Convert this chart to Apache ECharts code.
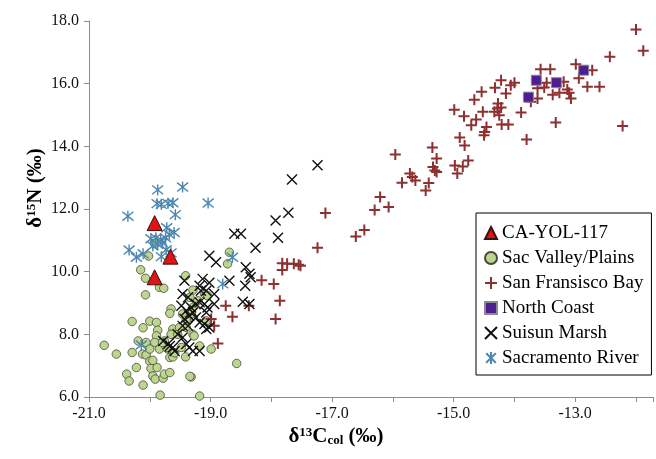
<!DOCTYPE html>
<html>
<head>
<meta charset="utf-8">
<script src="https://cdn.jsdelivr.net/npm/echarts@6/dist/echarts.min.js"></script>
<style>
  html, body { margin: 0; padding: 0; background: #fff; }
  #chart { width: 656px; height: 459px; }
</style>
</head>
<body>
<div id="chart"></div>
<script>
  // δ13C col, δ15N pairs
  const caYol = [[-19.92, 11.55], [-19.66, 10.48], [-19.92, 9.82]];

  const sacValley = [
    [-20.75, 7.65], [-20.55, 7.37], [-20.29, 7.42], [-20.29, 8.41], [-20.07, 9.26],
    [-20.11, 8.21], [-20.00, 8.42], [-19.89, 8.38], [-19.87, 8.13], [-19.89, 7.95],
    [-20.06, 7.74], [-19.92, 7.74], [-20.12, 7.37], [-20.06, 7.34], [-20.00, 7.53],
    [-19.84, 7.53], [-20.22, 6.94], [-20.38, 6.73], [-20.34, 6.51], [-20.11, 6.38],
    [-20.00, 7.14], [-19.98, 6.91], [-19.95, 6.67], [-19.91, 6.57], [-19.88, 6.94],
    [-19.78, 6.60], [-19.83, 6.06], [-19.65, 8.81], [-19.67, 8.67], [-19.76, 7.79],
    [-19.70, 7.53], [-19.67, 7.26], [-19.62, 8.17], [-19.65, 8.00], [-19.54, 8.00],
    [-19.62, 7.28], [-19.59, 7.41], [-19.48, 7.58], [-19.41, 7.28], [-19.40, 8.22],
    [-19.37, 8.43], [-19.32, 8.65], [-19.46, 8.65], [-19.32, 6.64], [-19.29, 8.00],
    [-19.18, 6.03], [-19.07, 8.43], [-18.99, 7.53], [-18.57, 7.07], [-19.29, 8.86],
    [-19.21, 9.07], [-19.10, 9.29], [-19.84, 9.50], [-20.02, 10.50], [-20.15, 10.06],
    [-20.07, 9.79], [-19.77, 9.47], [-19.41, 9.87], [-19.29, 9.41], [-18.69, 10.62],
    [-18.72, 10.25], [-19.92, 10.90], [-19.34, 9.18], [-19.05, 9.23], [-19.51, 8.22],
    [-19.18, 7.63], [-19.76, 6.73], [-19.67, 6.78], [-19.34, 6.66], [-19.73, 7.58],
    [-19.79, 7.74], [-20.19, 7.79], [-19.95, 7.17], [-19.40, 8.45], [-19.27, 7.95]
  ];

  const sfBay = [
    [-12.00, 17.73], [-11.88, 17.05], [-12.43, 16.86], [-12.99, 16.62], [-12.72, 16.43],
    [-13.57, 16.46], [-13.41, 16.46], [-12.94, 16.17], [-13.47, 16.03], [-13.19, 16.06],
    [-13.62, 15.85], [-13.51, 15.88], [-13.37, 15.65], [-13.26, 15.71], [-13.13, 15.81],
    [-13.10, 15.71], [-13.07, 15.53], [-12.80, 15.90], [-12.60, 15.90], [-13.62, 15.53],
    [-13.73, 15.42], [-13.32, 14.76], [-12.22, 14.65], [-13.80, 14.22], [-14.22, 16.11],
    [-14.06, 15.95], [-14.00, 16.03], [-14.32, 15.87], [-14.14, 15.69], [-14.54, 15.74],
    [-14.66, 15.49], [-14.27, 15.37], [-14.28, 15.21], [-14.22, 15.24], [-14.33, 15.10],
    [-14.25, 14.99], [-13.89, 15.08], [-14.52, 15.10], [-14.99, 15.17], [-14.83, 14.96],
    [-14.63, 14.86], [-14.71, 14.67], [-14.46, 14.62], [-14.49, 14.46], [-14.50, 14.35],
    [-14.21, 14.70], [-14.10, 14.70], [-14.90, 14.28], [-14.82, 14.03], [-15.35, 13.96],
    [-15.28, 13.61], [-15.34, 13.34], [-15.31, 13.23], [-15.28, 13.18], [-14.98, 13.39],
    [-14.94, 13.13], [-14.85, 13.36], [-14.76, 13.55], [-15.96, 13.74], [-15.72, 13.13],
    [-15.68, 13.02], [-15.63, 12.91], [-15.85, 12.84], [-15.41, 12.83], [-15.46, 12.59],
    [-16.21, 12.38], [-16.30, 11.97], [-16.07, 12.06], [-16.61, 11.12], [-16.47, 11.33],
    [-17.11, 11.87], [-17.24, 10.76], [-17.52, 10.19], [-17.82, 10.27], [-17.74, 10.25],
    [-17.63, 10.25], [-17.55, 10.22], [-17.82, 10.05], [-18.16, 9.73], [-17.96, 9.61],
    [-17.86, 9.07], [-18.37, 8.91], [-17.93, 8.49], [-18.75, 8.91], [-18.64, 8.56],
    [-18.99, 8.49], [-18.94, 8.27], [-18.88, 7.71]
  ];

  const northCoast = [[-13.64, 16.11], [-13.31, 16.03], [-12.86, 16.43], [-13.77, 15.57]];

  const suisun = [
    [-17.24, 13.40], [-17.66, 12.94], [-17.72, 11.88], [-17.93, 11.63], [-18.61, 11.21],
    [-18.50, 11.21], [-17.89, 11.08], [-18.26, 10.76], [-19.02, 10.51], [-18.91, 10.30],
    [-18.42, 10.14], [-18.36, 9.93], [-18.34, 9.82], [-18.43, 9.55], [-18.47, 9.04],
    [-19.13, 9.77], [-19.02, 9.65], [-18.69, 9.71], [-19.43, 9.71], [-19.07, 9.39],
    [-18.94, 9.29], [-19.46, 9.29], [-19.37, 9.18], [-19.18, 9.55], [-19.16, 9.39],
    [-19.18, 9.02], [-19.10, 8.97], [-19.48, 8.91], [-19.40, 8.75], [-19.29, 8.70],
    [-19.24, 8.54], [-19.18, 8.38], [-19.43, 8.49], [-19.37, 8.27], [-19.07, 8.70],
    [-19.32, 8.86], [-19.24, 8.97], [-19.05, 8.86], [-18.94, 8.97], [-19.35, 8.59],
    [-19.46, 8.27], [-19.10, 8.33], [-19.02, 8.22], [-19.78, 7.79], [-19.70, 7.69],
    [-19.62, 7.58], [-19.54, 8.00], [-19.46, 7.90], [-19.35, 7.58], [-19.29, 7.47],
    [-19.18, 7.47], [-19.40, 7.69], [-19.07, 8.17], [-18.36, 8.97], [-19.67, 7.63],
    [-19.59, 7.47]
  ];

  const sacRiver = [
    [-20.36, 11.77], [-19.87, 12.61], [-19.46, 12.70], [-19.04, 12.19], [-19.88, 12.17],
    [-19.81, 12.15], [-19.70, 12.18], [-19.62, 12.20], [-19.58, 11.82], [-19.98, 11.05],
    [-19.90, 11.08], [-19.82, 11.02], [-19.74, 11.08], [-19.68, 11.19], [-19.95, 10.82],
    [-19.87, 10.87], [-19.79, 10.92], [-19.73, 10.70], [-19.65, 10.60], [-20.34, 10.69],
    [-20.22, 10.46], [-20.11, 10.57], [-19.81, 10.48], [-18.64, 10.46], [-18.80, 9.61],
    [-20.14, 7.66], [-19.72, 11.40], [-19.60, 11.25]
  ];

  const seriesNames = ['CA-YOL-117', 'Sac Valley/Plains', 'San Fransisco Bay',
    'North Coast', 'Suisun Marsh', 'Sacramento River'];

  const serif = '"Liberation Serif", "Times New Roman", serif';
  const plusPath = 'path://M0,5L10,5M5,0L5,10';
  const crossPath = 'path://M0,0L10,10M10,0L0,10';
  const starPath = 'path://M1,1L9,9M9,1L1,9M5,0L5,10';

  const chart = echarts.init(document.getElementById('chart'), null, { renderer: 'canvas' });

  const titleRich = {
    b: { fontFamily: serif, fontSize: 21, fontWeight: 'bold', fill: '#000' },
    sup: { fontFamily: serif, fontSize: 13, fontWeight: 'bold', verticalAlign: 'top', fill: '#000' },
    sub: { fontFamily: serif, fontSize: 13, fontWeight: 'bold', verticalAlign: 'bottom', fill: '#000' }
  };

  const option = {
    animation: false,
    backgroundColor: '#fff',
    grid: { left: 89, right: 0, top: 21, bottom: 62 },
    xAxis: {
      type: 'value',
      min: -21, max: -11.72, interval: 1,
      axisLine: { lineStyle: { color: '#8c8c8c', width: 1 } },
      axisTick: { length: 5, lineStyle: { color: '#8c8c8c' } },
      splitLine: { show: false },
      axisLabel: {
        margin: 9, color: '#111', fontFamily: serif, fontSize: 16,
        formatter: function (v) {
          const r = Math.round(v);
          return (Math.abs(r - v) < 1e-6 && r % 2 !== 0) ? v.toFixed(1) : '';
        }
      }
    },
    yAxis: {
      type: 'value',
      min: 6, max: 18, interval: 2,
      axisLine: { show: true, lineStyle: { color: '#8c8c8c', width: 1 } },
      axisTick: { show: true, length: 5, lineStyle: { color: '#8c8c8c' } },
      splitLine: { show: false },
      axisLabel: {
        margin: 10, color: '#111', fontFamily: serif, fontSize: 16,
        formatter: v => v.toFixed(1)
      }
    },
    legend: {
      orient: 'vertical',
      left: 476, top: 213,
      padding: [10, 8, 7, 8],
      itemGap: 5,
      itemWidth: 12, itemHeight: 12,
      backgroundColor: '#fff',
      borderColor: '#000', borderWidth: 1,
      textStyle: { fontFamily: serif, fontSize: 19, lineHeight: 20, color: '#000' },
      data: seriesNames
    },
    graphic: [
      {
        type: 'text', x: 336, y: 437,
        style: {
          text: '{b|δ}{sup|13}{b|C}{sub|col}{b| (‰)}',
          align: 'center', verticalAlign: 'middle',
          textAlign: 'center', textVerticalAlign: 'middle',
          rich: titleRich
        }
      },
      {
        type: 'text', x: 36, y: 188, rotation: Math.PI / 2,
        style: {
          text: '{b|δ}{sup|15}{b|N (‰)}',
          align: 'center', verticalAlign: 'middle',
          textAlign: 'center', textVerticalAlign: 'middle',
          rich: titleRich
        }
      }
    ],
    series: [
      {
        name: seriesNames[0], type: 'scatter', data: caYol, z: 6,
        symbol: 'triangle', symbolSize: [15, 15],
        itemStyle: { color: '#e01414', borderColor: '#3a1010', borderWidth: 1, opacity: 1 }
      },
      {
        name: seriesNames[1], type: 'scatter', data: sacValley, z: 2,
        symbol: 'circle', symbolSize: 8.5,
        itemStyle: { color: '#bcd68f', borderColor: '#4a4a3a', borderWidth: 0.8, opacity: 1 }
      },
      {
        name: seriesNames[2], type: 'scatter', data: sfBay, z: 3,
        symbol: plusPath, symbolSize: 11,
        itemStyle: { color: '#8c3030', borderColor: '#8c3030', borderWidth: 2, opacity: 1 }
      },
      {
        name: seriesNames[3], type: 'scatter', data: northCoast, z: 4,
        symbol: 'rect', symbolSize: 10,
        itemStyle: { color: '#4e1d8e', borderColor: '#8a8a9a', borderWidth: 1, opacity: 1 }
      },
      {
        name: seriesNames[4], type: 'scatter', data: suisun, z: 3,
        symbol: crossPath, symbolSize: 10,
        itemStyle: { color: '#111', borderColor: '#111', borderWidth: 1.4, opacity: 1 }
      },
      {
        name: seriesNames[5], type: 'scatter', data: sacRiver, z: 4,
        symbol: starPath, symbolSize: 11,
        itemStyle: { color: '#4b87ae', borderColor: '#4b87ae', borderWidth: 1.4, opacity: 1 }
      }
    ]
  };

  chart.setOption(option);
  window.addEventListener('resize', chart.resize);
</script>
</body>
</html>
